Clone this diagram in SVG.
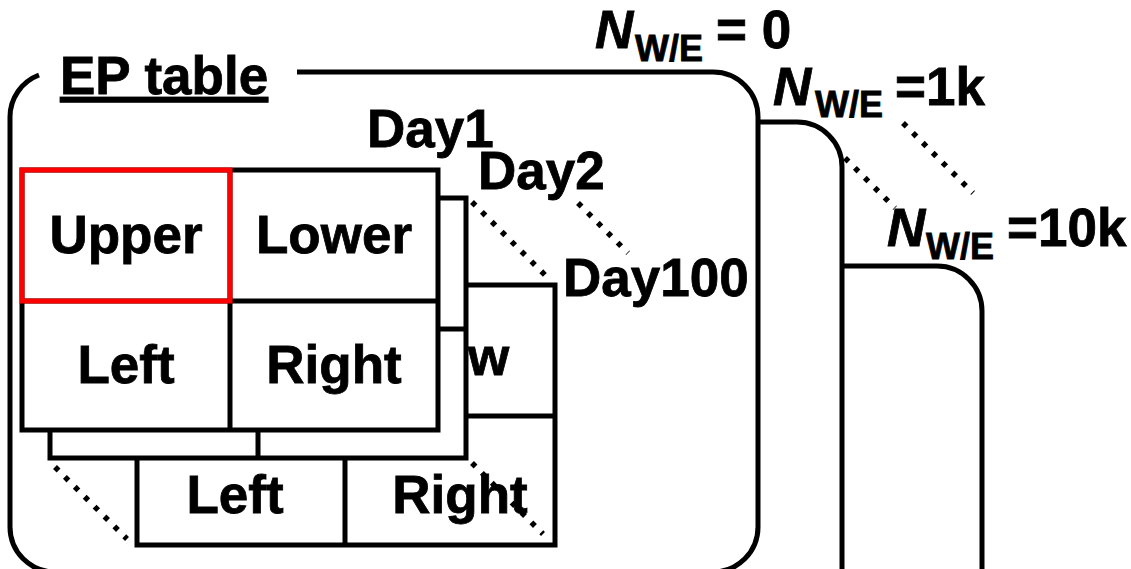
<svg xmlns="http://www.w3.org/2000/svg" width="1131" height="569" viewBox="0 0 1131 569">
<style>
text{font-family:"Liberation Sans",Arial,sans-serif;font-weight:bold;fill:#000;stroke:#000;stroke-width:0.8}
.big{font-size:53px}
.sub{font-size:36px}
.it{font-style:italic}
.ln{fill:none;stroke:#000;stroke-width:5}
.tb{fill:#fff;stroke:#000;stroke-width:5}
.dot{fill:none;stroke:#000;stroke-width:5.5;stroke-dasharray:5 9}
.red{fill:none;stroke:#ff0000;stroke-width:5}
</style>
<rect width="1131" height="569" fill="#fff"/>
<g id="card-10k">
<path class="ln" d="M842 266 H937 A45 45 0 0 1 982 311 V575"/>
<text class="big it" x="887" y="246">N</text>
<text class="sub" x="926" y="259">W/E</text>
<text class="big" x="1007" y="246">=10k</text>
</g>
<g id="card-1k">
<path class="ln" d="M758 122 H797 A45 45 0 0 1 842 167 V575"/>
<text class="big it" x="773" y="105">N</text>
<text class="sub" x="815" y="117">W/E</text>
<text class="big" x="895" y="105">=1k</text>
</g>
<g id="card-0">
<path class="ln" d="M39 75 A45 45 0 0 0 10 117 V527 A45 45 0 0 0 55 572 H713 A45 45 0 0 0 758 527 V117 A45 45 0 0 0 713 72 H297"/>
<text class="big it" x="595" y="48">N</text>
<text class="sub" x="635" y="61">W/E</text>
<text class="big" x="716" y="48">= 0</text>
<text class="big" x="60" y="94" text-decoration="underline">EP table</text>
</g>
<g id="table-day100">
<rect class="tb" x="137" y="285" width="418" height="260"/>
<path class="ln" d="M137 416 H555 M345 285 V545"/>
<text class="big" x="468" y="375">w</text>
<text class="big" x="235" y="513" text-anchor="middle">Left</text>
<text class="big" x="460" y="513" text-anchor="middle">Right</text>
<text class="big" x="563" y="296">Day100</text>
</g>
<g id="table-day2">
<rect class="tb" x="50" y="198" width="416" height="260"/>
<path class="ln" d="M50 329 H466 M258 198 V458"/>
<text class="big" x="478" y="189">Day2</text>
</g>
<g id="table-day1">
<rect class="tb" x="22" y="170" width="416" height="260"/>
<path class="ln" d="M22 301 H438 M230 170 V430"/>
<rect class="red" x="22" y="170" width="208" height="131"/>
<text class="big" x="126" y="253" text-anchor="middle">Upper</text>
<text class="big" x="334" y="253" text-anchor="middle">Lower</text>
<text class="big" x="126" y="383" text-anchor="middle">Left</text>
<text class="big" x="334" y="383" text-anchor="middle">Right</text>
<text class="big" x="367" y="147">Day1</text>
</g>
<g id="connectors">
<line class="dot" x1="55" y1="467" x2="127" y2="539"/>
<line class="dot" x1="472" y1="463" x2="543" y2="534"/>
<line class="dot" x1="472" y1="202" x2="546" y2="276"/>
<line class="dot" x1="578" y1="203" x2="628" y2="253"/>
<line class="dot" x1="845" y1="158" x2="895" y2="208"/>
<line class="dot" x1="903" y1="123" x2="973" y2="193"/>
</g>
</svg>
